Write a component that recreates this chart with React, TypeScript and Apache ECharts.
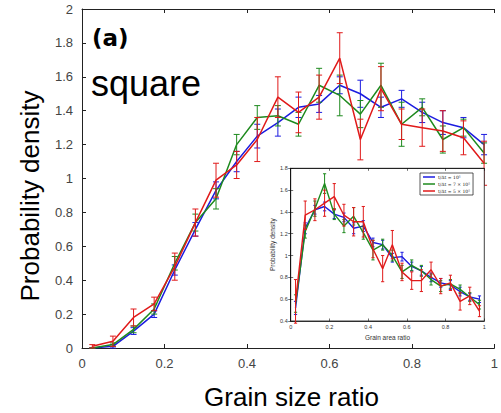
import React, { useEffect, useRef } from "react";
import * as echarts from "echarts";

const xs = [0.025, 0.075, 0.125, 0.175, 0.225, 0.275, 0.325, 0.375, 0.425, 0.475, 0.525, 0.575, 0.625, 0.675, 0.725, 0.775, 0.825, 0.875, 0.925, 0.975];
const names = ["t/Δt = 10⁵", "t/Δt = 7 × 10⁵", "t/Δt = 5 × 10⁵"];
const colors = ["#1c1ce0", "#1e8a1e", "#e01a1a"];

// main panel: grain size ratio
const mainBlue = [0.0, 0.01, 0.1, 0.2, 0.46, 0.7, 0.93, 1.1, 1.25, 1.33, 1.42, 1.44, 1.55, 1.5, 1.42, 1.47, 1.39, 1.33, 1.3, 1.2];
const mainGreen = [0.0, 0.02, 0.11, 0.23, 0.5, 0.74, 0.88, 1.2, 1.36, 1.37, 1.32, 1.55, 1.49, 1.38, 1.55, 1.32, 1.42, 1.23, 1.3, 1.15];
const mainRed = [0.01, 0.04, 0.18, 0.26, 0.48, 0.74, 0.99, 1.08, 1.23, 1.48, 1.39, 1.48, 1.71, 1.23, 1.53, 1.32, 1.3, 1.28, 1.24, 1.09];
const mainBlueErr = [0.0, 0.01, 0.02, 0.02, 0.03, 0.04, 0.05, 0.06, 0.07, 0.08, 0.06, 0.05, 0.05, 0.08, 0.06, 0.05, 0.06, 0.07, 0.06, 0.06];
const mainGreenErr = [0.0, 0.01, 0.02, 0.03, 0.04, 0.05, 0.06, 0.06, 0.07, 0.06, 0.07, 0.1, 0.12, 0.08, 0.13, 0.13, 0.05, 0.08, 0.05, 0.06];
const mainRedErr = [0.01, 0.03, 0.05, 0.04, 0.08, 0.08, 0.1, 0.08, 0.13, 0.12, 0.12, 0.13, 0.15, 0.12, 0.13, 0.09, 0.11, 0.12, 0.1, 0.13];

// inset: grain area ratio
const inBlue = [0.52, 1.25, 1.42, 1.45, 1.38, 1.35, 1.25, 1.27, 1.12, 1.1, 0.98, 0.99, 0.9, 0.86, 0.8, 0.75, 0.73, 0.67, 0.62, 0.6];
const inGreen = [0.56, 1.22, 1.43, 1.66, 1.38, 1.27, 1.36, 1.21, 1.05, 1.1, 1.0, 0.85, 0.91, 0.86, 0.78, 0.72, 0.74, 0.69, 0.62, 0.55];
const inRed = [0.58, 1.37, 1.42, 1.48, 1.54, 1.37, 1.31, 1.31, 1.06, 0.88, 1.1, 0.85, 0.77, 0.77, 0.87, 0.72, 0.75, 0.58, 0.63, 0.49];
const inBlueErr = [0.06, 0.05, 0.04, 0.04, 0.04, 0.04, 0.05, 0.05, 0.04, 0.04, 0.04, 0.04, 0.04, 0.04, 0.04, 0.04, 0.04, 0.04, 0.03, 0.03];
const inGreenErr = [0.08, 0.06, 0.07, 0.09, 0.05, 0.06, 0.08, 0.06, 0.09, 0.05, 0.05, 0.06, 0.05, 0.05, 0.05, 0.05, 0.04, 0.04, 0.04, 0.04];
const inRedErr = [0.2, 0.13, 0.1, 0.12, 0.12, 0.1, 0.13, 0.14, 0.08, 0.12, 0.13, 0.08, 0.08, 0.1, 0.07, 0.07, 0.07, 0.08, 0.08, 0.05];

const mainTicks = ["0", "0.2", "0.4", "0.6", "0.8", "1"];

function pairs(v: number[]) {
  return xs.map((x, i) => [x, v[i]]);
}
function errData(v: number[], e: number[]) {
  return xs.map((x, i) => [x, v[i] - e[i], v[i] + e[i]]);
}

function errSeries(name: string, color: string, v: number[], e: number[], xi: number, yi: number, cap: number, z: number) {
  return {
    type: "custom",
    name,
    xAxisIndex: xi,
    yAxisIndex: yi,
    z,
    itemStyle: { color },
    data: errData(v, e),
    encode: { x: 0, y: [1, 2] },
    renderItem: (params: any, api: any) => {
      const x = api.value(0);
      const p1 = api.coord([x, api.value(1)]);
      const p2 = api.coord([x, api.value(2)]);
      const st = { stroke: color, lineWidth: 1 };
      return {
        type: "group",
        children: [
          { type: "line", shape: { x1: p1[0], y1: p1[1], x2: p2[0], y2: p2[1] }, style: st },
          { type: "line", shape: { x1: p1[0] - cap, y1: p1[1], x2: p1[0] + cap, y2: p1[1] }, style: st },
          { type: "line", shape: { x1: p2[0] - cap, y1: p2[1], x2: p2[0] + cap, y2: p2[1] }, style: st },
        ],
      };
    },
  };
}

function lineSeries(name: string, color: string, v: number[], xi: number, yi: number, w: number, z: number) {
  return {
    type: "line",
    name,
    xAxisIndex: xi,
    yAxisIndex: yi,
    z,
    data: pairs(v),
    symbol: "none",
    lineStyle: { color, width: w },
    itemStyle: { color },
  };
}

export default function App() {
  const ref = useRef<HTMLDivElement>(null);
  useEffect(() => {
    const chart = echarts.init(ref.current!, null, { renderer: "svg" });
    const axisLineStyle = { color: "#222", width: 1 };
    const mainLabel = { color: "#444", fontSize: 13, fontFamily: "Liberation Sans" };
    const inLabel = { color: "#333", fontSize: 5.5, fontFamily: "Liberation Sans" };
    const mainSets = [
      [mainBlue, mainBlueErr],
      [mainGreen, mainGreenErr],
      [mainRed, mainRedErr],
    ];
    const inSets = [
      [inBlue, inBlueErr],
      [inGreen, inGreenErr],
      [inRed, inRedErr],
    ];
    const series: any[] = [];
    mainSets.forEach(([v, e], i) => {
      series.push(lineSeries(names[i], colors[i], v, 0, 0, 1.5, 2 + i));
      series.push(errSeries(names[i], colors[i], v, e, 0, 0, 3, 2 + i));
    });
    inSets.forEach(([v, e], i) => {
      series.push(lineSeries(names[i], colors[i], v, 2, 1, 1.4, 10 + i));
      series.push(errSeries(names[i], colors[i], v, e, 2, 1, 1.6, 10 + i));
    });

    chart.setOption({
      animation: false,
      backgroundColor: "#fff",
      color: colors,
      grid: [
        { left: 82, top: 9, right: -11, bottom: 65, show: false },
        { left: 290.7, top: 168.3, right: 16.7, bottom: 92, show: true, backgroundColor: "#fff", borderColor: "#111", borderWidth: 0.8, z: 8 },
      ],
      legend: {
        data: names,
        orient: "vertical",
        left: 420,
        top: 173,
        itemWidth: 12,
        itemHeight: 1.5,
        itemGap: 2,
        padding: [1.5, 3, 1.5, 3],
        icon: "rect",
        borderColor: "#111",
        borderWidth: 0.7,
        backgroundColor: "#fff",
        z: 20,
        textStyle: { fontSize: 4.5, fontFamily: "DejaVu Serif", color: "#222", padding: [0, 0, 0, -2] },
      },
      xAxis: [
        {
          type: "value", gridIndex: 0, min: 0, max: 1, interval: 0.2, position: "bottom",
          axisLine: { lineStyle: axisLineStyle }, axisTick: { inside: true, length: 4, lineStyle: axisLineStyle },
          axisLabel: { ...mainLabel, margin: 9, formatter: (v: number) => mainTicks[Math.round(v / 0.2)] ?? "" },
          splitLine: { show: false },
        },
        {
          type: "value", gridIndex: 0, min: 0, max: 1, interval: 0.2, position: "top",
          axisLine: { lineStyle: axisLineStyle }, axisTick: { inside: true, length: 4, lineStyle: axisLineStyle },
          axisLabel: { show: false }, splitLine: { show: false },
        },
        {
          type: "value", gridIndex: 1, min: 0, max: 1, interval: 0.2, position: "bottom", z: 9,
          axisLine: { lineStyle: { color: "#111", width: 0.8 } }, axisTick: { inside: true, length: 2.5, lineStyle: { color: "#111", width: 0.6 } },
          axisLabel: { ...inLabel, margin: 3 }, splitLine: { show: false },
          name: "Grain area ratio", nameLocation: "middle", nameGap: 13,
          nameTextStyle: { fontSize: 6.5, fontFamily: "Liberation Sans", color: "#333" },
        },
        {
          type: "value", gridIndex: 1, min: 0, max: 1, interval: 0.2, position: "top", z: 9,
          axisLine: { lineStyle: { color: "#111", width: 0.8 } }, axisTick: { inside: true, length: 2.5, lineStyle: { color: "#111", width: 0.6 } },
          axisLabel: { show: false }, splitLine: { show: false },
        },
      ],
      yAxis: [
        {
          type: "value", gridIndex: 0, min: 0, max: 2, interval: 0.2,
          axisLine: { show: true, lineStyle: axisLineStyle }, axisTick: { show: true, inside: true, length: 4, lineStyle: axisLineStyle },
          axisLabel: { ...mainLabel, margin: 9 }, splitLine: { show: false },
        },
        {
          type: "value", gridIndex: 1, min: 0.4, max: 1.8, interval: 0.2, position: "left", z: 9,
          axisLine: { show: true, lineStyle: { color: "#111", width: 0.8 } }, axisTick: { show: true, inside: true, length: 2.5, lineStyle: { color: "#111", width: 0.6 } },
          axisLabel: { ...inLabel, margin: 3 }, splitLine: { show: false },
          name: "Probability density", nameLocation: "middle", nameGap: 14,
          nameTextStyle: { fontSize: 6.5, fontFamily: "Liberation Sans", color: "#333" },
        },
        {
          type: "value", gridIndex: 1, min: 0.4, max: 1.8, interval: 0.2, position: "right", z: 9,
          axisLine: { show: true, lineStyle: { color: "#111", width: 0.8 } }, axisTick: { show: true, inside: true, length: 2.5, lineStyle: { color: "#111", width: 0.6 } },
          axisLabel: { show: false }, splitLine: { show: false },
        },
      ],
      graphic: [
        { type: "text", left: 92, top: 26, z: 30, style: { text: "(a)", font: "bold 23px 'DejaVu Sans'", fill: "#000" } },
        { type: "text", x: 91, y: 83.5, z: 30, style: { text: "square", font: "36px 'Liberation Sans'", fill: "#000", verticalAlign: "middle", align: "left" } },
        { type: "text", x: 30, y: 196, rotation: Math.PI / 2, z: 30, style: { text: "Probability density", font: "26px 'Liberation Sans'", fill: "#000", verticalAlign: "middle", align: "center" } },
        { type: "text", x: 291.5, y: 396.5, z: 30, style: { text: "Grain size ratio", font: "26px 'Liberation Sans'", fill: "#000", verticalAlign: "middle", align: "center" } },
      ],
      series,
    });
    return () => chart.dispose();
  }, []);
  return <div ref={ref} style={{ position: "fixed", left: 0, top: 0, width: 501, height: 413 }} />;
}
